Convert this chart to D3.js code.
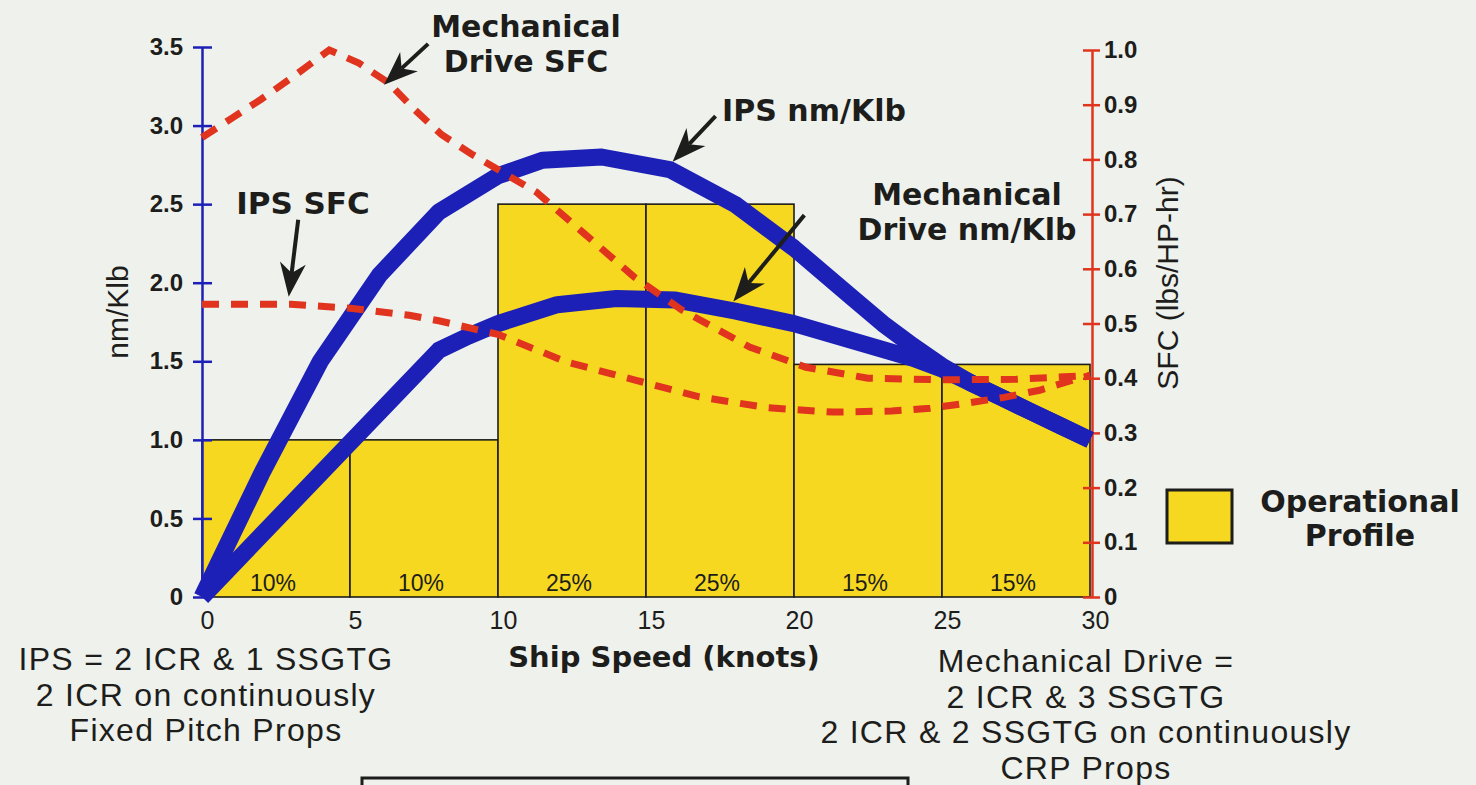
<!DOCTYPE html>
<html>
<head>
<meta charset="utf-8">
<script src="https://cdn.jsdelivr.net/npm/d3@7"></script>
<style>
  body { margin: 0; background: #eef1ec; }
  svg { display: block; }
</style>
</head>
<body>
<div id="chart"></div>
<script>
// operational profile bars (start of each 5 knot band)
const profileStart = [0, 5, 10, 15, 20, 25];
const profileHeight = [1.0, 1.0, 2.5, 2.5, 1.48, 1.48];
const profileLabel = ['10%', '10%', '25%', '25%', '15%', '15%'];

// nm/Klb curves (left axis)
const ipsSpeed = [0, 2, 4, 6, 8, 10, 11.5, 13.5, 15.8, 18, 20, 22, 23, 24, 25, 26, 27, 28, 29, 30];
const ipsRange = [0, 0.78, 1.5, 2.05, 2.45, 2.68, 2.78, 2.8, 2.72, 2.5, 2.22, 1.9, 1.74, 1.6, 1.47, 1.36, 1.27, 1.18, 1.09, 1.0];
const mechSpeed = [0, 8, 9, 10, 12, 14, 16, 18, 20, 22, 24, 25, 26, 27, 28, 29, 30];
const mechRange = [0, 1.57, 1.66, 1.74, 1.86, 1.9, 1.89, 1.82, 1.74, 1.63, 1.52, 1.45, 1.36, 1.27, 1.18, 1.09, 1.0];

// SFC curves (right axis)
const mechSfcSpeed = [0, 1, 2, 3, 4.3, 5.3, 6.3, 7.2, 8.1, 9.1, 10.2, 11.3, 12.9, 14.6, 16.2, 18.5, 20.4, 22.5, 25, 27.5, 30];
const mechSfc = [0.84, 0.875, 0.91, 0.948, 1.0, 0.976, 0.94, 0.89, 0.845, 0.81, 0.775, 0.74, 0.665, 0.585, 0.525, 0.457, 0.42, 0.40, 0.397, 0.398, 0.405];
const ipsSfcSpeed = [0, 3, 5, 7, 8, 10, 12.3, 14.6, 16.8, 19.1, 21.3, 23.3, 24.6, 25.9, 27.1, 28.3, 29.5, 30];
const ipsSfc = [0.535, 0.535, 0.528, 0.515, 0.505, 0.48, 0.43, 0.397, 0.366, 0.346, 0.338, 0.34, 0.345, 0.355, 0.365, 0.378, 0.398, 0.405];

// axis ticks
const speedTicks = [0, 5, 10, 15, 20, 25, 30];
const rangeTicks = [0, 0.5, 1.0, 1.5, 2.0, 2.5, 3.0, 3.5];
const sfcTicks = [0, 0.1, 0.2, 0.3, 0.4, 0.5, 0.6, 0.7, 0.8, 0.9, 1.0];

const width = 1476, height = 785;
const blue = '#1c20b6', red = '#e0341e', yellow = '#f6d820', ink = '#1d1d1b';
const boldFont = '"DejaVu Sans", sans-serif';
const plainFont = '"Liberation Sans", Arial, sans-serif';

const svg = d3.select('#chart').append('svg')
  .attr('width', width)
  .attr('height', height);

const x = d3.scaleLinear().domain([0, 30]).range([202, 1090]);
const yL = d3.scaleLinear().domain([0, 3.5]).range([597, 47]);
const yR = d3.scaleLinear().domain([0, 1]).range([597, 50]);

// bars
svg.append('g')
  .selectAll('rect')
  .data(profileStart)
  .join('rect')
    .attr('x', d => x(d))
    .attr('y', (d, i) => yL(profileHeight[i]))
    .attr('width', d => x(d + 5) - x(d))
    .attr('height', (d, i) => yL(0) - yL(profileHeight[i]))
    .attr('fill', yellow)
    .attr('stroke', ink)
    .attr('stroke-width', 1.6);

svg.append('g')
  .selectAll('text')
  .data(profileStart)
  .join('text')
    .attr('x', d => x(d + 2.5) - 3)
    .attr('y', yL(0) - 6)
    .attr('text-anchor', 'middle')
    .attr('font-family', plainFont)
    .attr('font-size', 23)
    .attr('fill', ink)
    .text((d, i) => profileLabel[i]);

// left axis (blue)
const leftAxis = svg.append('g')
  .attr('transform', `translate(${x(0)},0)`)
  .call(d3.axisLeft(yL).tickValues(rangeTicks)
    .tickFormat(d => d === 0 ? '0' : d3.format('.1f')(d))
    .tickSizeInner(9).tickSizeOuter(0).tickPadding(10));
leftAxis.select('.domain').attr('stroke', blue).attr('stroke-width', 2.5);
leftAxis.selectAll('.tick line').attr('stroke', blue).attr('stroke-width', 2.5).attr('x1', 10);
leftAxis.selectAll('.tick text')
  .style('font-family', plainFont).style('font-weight', 'bold')
  .style('font-size', '24px').attr('fill', ink);

// right axis (red)
const rightAxis = svg.append('g')
  .attr('transform', `translate(${x(30) + 2},0)`)
  .call(d3.axisRight(yR).tickValues(sfcTicks)
    .tickFormat(d => d === 0 ? '0' : d3.format('.1f')(d))
    .tickSizeInner(8).tickSizeOuter(0).tickPadding(4));
rightAxis.select('.domain').attr('stroke', red).attr('stroke-width', 2.5);
rightAxis.selectAll('.tick line').attr('stroke', red).attr('stroke-width', 2.5).attr('x1', -9);
rightAxis.selectAll('.tick text')
  .style('font-family', plainFont).style('font-weight', 'bold')
  .style('font-size', '24px').attr('fill', ink);

// bottom axis labels
const bottomAxis = svg.append('g')
  .attr('transform', `translate(0,${yL(0)})`)
  .call(d3.axisBottom(x).tickValues(speedTicks).tickSize(0).tickPadding(14));
bottomAxis.select('.domain').remove();
bottomAxis.selectAll('.tick text')
  .attr('dx', 5)
  .style('font-family', plainFont)
  .style('font-size', '25px').attr('fill', ink);

// curves
const line = d3.line().x(d => x(d[0]));
const ipsPts = ipsSpeed.map((s, i) => [s, ipsRange[i]]);
const mechPts = mechSpeed.map((s, i) => [s, mechRange[i]]);
const mechSfcPts = mechSfcSpeed.map((s, i) => [s, mechSfc[i]]);
const ipsSfcPts = ipsSfcSpeed.map((s, i) => [s, ipsSfc[i]]);

[mechPts, ipsPts].forEach(pts => {
  svg.append('path')
    .attr('d', line.y(d => yL(d[1]))(pts))
    .attr('fill', 'none')
    .attr('stroke', blue)
    .attr('stroke-width', 17)
    .attr('stroke-linejoin', 'round');
});

[ipsSfcPts, mechSfcPts].forEach(pts => {
  svg.append('path')
    .attr('d', line.y(d => yR(d[1]))(pts))
    .attr('fill', 'none')
    .attr('stroke', red)
    .attr('stroke-width', 7)
    .attr('stroke-dasharray', '17,12');
});

// annotations: arrows in data units (knots, nm/Klb)
const arrows = [
  { from: [7.64, 3.52], to: [6.15, 3.26] },
  { from: [17.35, 3.06], to: [15.9, 2.77] },
  { from: [3.25, 2.4], to: [2.93, 1.91] },
  { from: [20.35, 2.43], to: [17.95, 1.88] }
];
arrows.forEach(a => {
  const x1 = x(a.from[0]), y1 = yL(a.from[1]);
  const x2 = x(a.to[0]), y2 = yL(a.to[1]);
  const len = Math.hypot(x2 - x1, y2 - y1);
  const ux = (x2 - x1) / len, uy = (y2 - y1) / len;
  const px = -uy, py = ux;
  const headLen = 34, notch = 24, half = 13;
  const bx = x2 - ux * headLen, by = y2 - uy * headLen;
  const nx = x2 - ux * notch, ny = y2 - uy * notch;
  svg.append('line')
    .attr('x1', x1).attr('y1', y1).attr('x2', nx).attr('y2', ny)
    .attr('stroke', ink).attr('stroke-width', 4);
  svg.append('path')
    .attr('d', `M${x2},${y2}L${bx + px * half},${by + py * half}L${nx},${ny}L${bx - px * half},${by - py * half}Z`)
    .attr('fill', ink);
});

const labels = [
  { lines: ['Mechanical', 'Drive SFC'], x: 526, y: 37, size: 30 },
  { lines: ['IPS nm/Klb'], x: 814, y: 121, size: 30 },
  { lines: ['IPS SFC'], x: 303, y: 214, size: 31 },
  { lines: ['Mechanical', 'Drive nm/Klb'], x: 967, y: 205, size: 30 }
];
labels.forEach(l => {
  const t = svg.append('text')
    .attr('text-anchor', 'middle')
    .attr('font-family', boldFont).attr('font-weight', 'bold')
    .attr('font-size', l.size).attr('fill', ink);
  l.lines.forEach((s, i) => {
    t.append('tspan').attr('x', l.x).attr('y', l.y + i * 35).text(s);
  });
});

// axis titles
svg.append('text')
  .attr('transform', 'translate(128,312) rotate(-90)')
  .attr('text-anchor', 'middle')
  .attr('font-family', plainFont).attr('font-size', 30).attr('fill', ink)
  .text('nm/Klb');

svg.append('text')
  .attr('transform', 'translate(1178,283) rotate(-90)')
  .attr('text-anchor', 'middle')
  .attr('font-family', plainFont).attr('font-size', 30).attr('fill', ink)
  .text('SFC (lbs/HP-hr)');

svg.append('text')
  .attr('x', 664).attr('y', 667)
  .attr('text-anchor', 'middle')
  .attr('font-family', boldFont).attr('font-weight', 'bold')
  .attr('font-size', 29).attr('fill', ink)
  .text('Ship Speed (knots)');

// legend
svg.append('rect')
  .attr('x', 1167).attr('y', 490).attr('width', 65).attr('height', 53)
  .attr('fill', yellow).attr('stroke', ink).attr('stroke-width', 3);
const legText = svg.append('text')
  .attr('text-anchor', 'middle')
  .attr('font-family', boldFont).attr('font-weight', 'bold')
  .attr('font-size', 30).attr('fill', ink);
legText.append('tspan').attr('x', 1360).attr('y', 512).text('Operational');
legText.append('tspan').attr('x', 1360).attr('y', 546).text('Profile');

// notes
const notes = [
  { lines: ['IPS = 2 ICR & 1 SSGTG', '2 ICR on continuously', 'Fixed Pitch Props'], x: 206, y: 670 },
  { lines: ['Mechanical Drive =', '2 ICR & 3 SSGTG', '2 ICR & 2 SSGTG on continuously', 'CRP Props'], x: 1086, y: 672 }
];
notes.forEach(n => {
  const t = svg.append('text')
    .attr('text-anchor', 'middle')
    .attr('font-family', plainFont)
    .attr('font-size', 32)
    .attr('letter-spacing', 1.3)
    .attr('fill', ink);
  n.lines.forEach((s, i) => {
    t.append('tspan').attr('x', n.x).attr('y', n.y + i * 35.5).text(s);
  });
});

// box cut off at the bottom edge
svg.append('rect')
  .attr('x', 362).attr('y', 778).attr('width', 546).attr('height', 30)
  .attr('fill', 'none').attr('stroke', ink).attr('stroke-width', 3);
</script>
</body>
</html>
